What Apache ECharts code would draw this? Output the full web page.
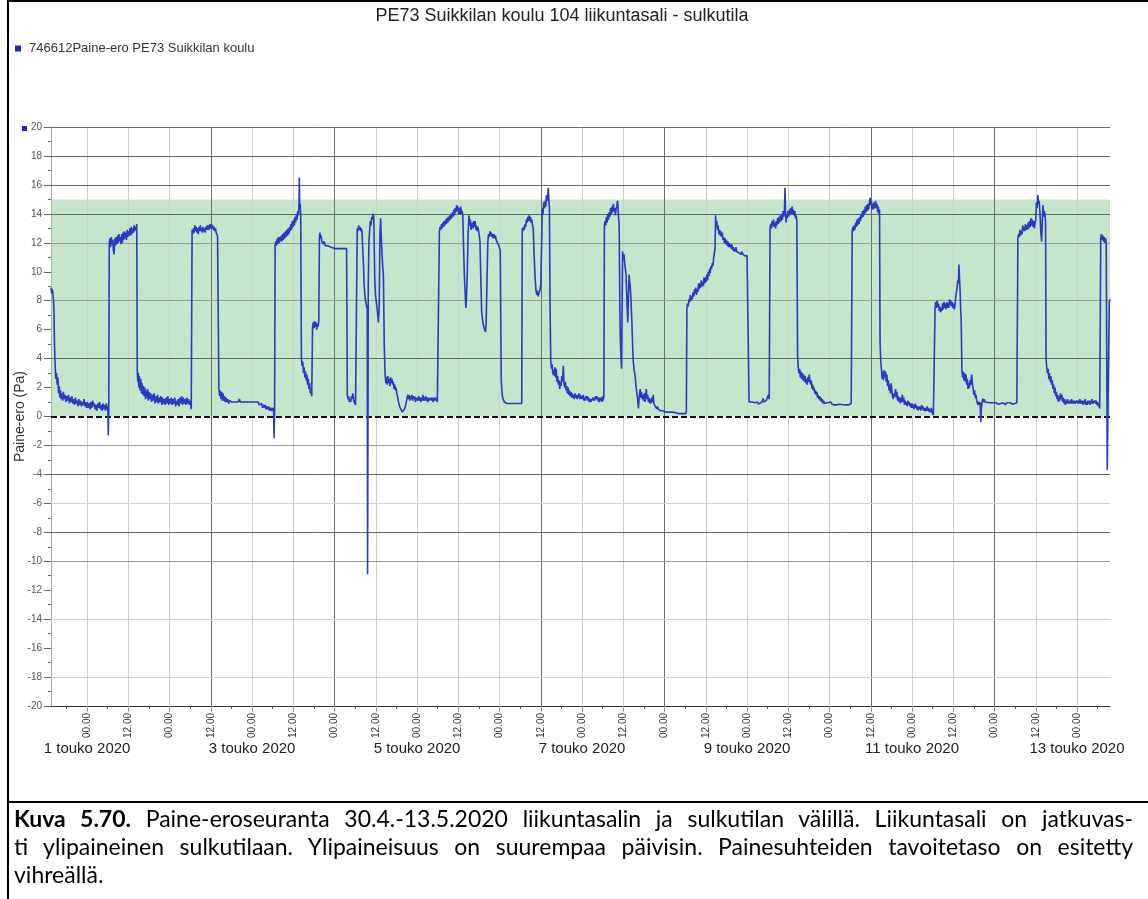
<!DOCTYPE html>
<html>
<head>
<meta charset="utf-8">
<title>PE73 Suikkilan koulu 104 liikuntasali - sulkutila</title>
<script src="https://cdn.jsdelivr.net/npm/echarts@6/dist/echarts.min.js"></script>
<style>
  html, body { margin: 0; padding: 0; background: #fff; }
  #page { position: relative; width: 1148px; height: 899px; overflow: hidden; background: #fff; }
  #chart { position: absolute; left: 0; top: 0; width: 1148px; height: 800px; }
  .rule { position: absolute; background: #000; }
  #caption { position: absolute; left: 14px; top: 804px; width: 1119px;
             font-family: Lato, "Noto Sans", sans-serif; font-size: 23px; line-height: 28px; color: #000; }
  #caption .ln { text-align: justify; text-align-last: justify; white-space: nowrap; }
  #caption .ln.last { text-align: left; text-align-last: left; }
</style>
</head>
<body>
<div id="page">
  <div id="chart"></div>
  <div class="rule" style="left:7px;top:0;width:2px;height:899px;"></div>
  <div class="rule" style="left:7px;top:0;width:1141px;height:2px;"></div>
  <div class="rule" style="left:7px;top:801px;width:1141px;height:2px;"></div>
  <div id="caption">
    <div class="ln"><b>Kuva 5.70.</b> Paine-eroseuranta 30.4.-13.5.2020 liikuntasalin ja sulkutilan välillä. Liikuntasali on jatkuvas-</div>
    <div class="ln">ti ylipaineinen sulkutilaan. Ylipaineisuus on suurempaa päivisin. Painesuhteiden tavoitetaso on esitetty</div>
    <div class="ln last">vihreällä.</div>
  </div>
</div>
<script>
// Pressure difference samples: [hours since 30.4.2020 00:00, Pa]
const apr30 = [[13.5,8.9],[13.7,8.5],[13.85,8.8],[14.0,8.6],[14.2,8.1],[14.35,7.4],[14.5,5.2],[14.7,3.5],[14.9,2.6],[15.1,3.0],[15.3,2.2],[15.5,2.7],[15.7,1.6],[15.9,2.1],[16.1,1.3],[16.3,1.8],[16.5,1.2],[16.7,1.6],[16.9,1.1],[17.1,1.7],[17.35,1.2],[17.6,1.5],[17.85,1.0],[18.1,1.4],[18.35,1.1],[18.6,1.5],[18.85,0.9],[19.1,1.3],[19.35,1.0],[19.6,1.4],[19.85,0.9],[20.1,1.2],[20.35,0.8],[20.6,1.3],[20.85,0.9],[21.1,1.1],[21.35,0.7],[21.6,1.2],[21.85,0.8],[22.1,1.1],[22.35,0.7],[22.6,1.0],[22.85,0.8],[23.1,1.2],[23.35,0.7],[23.6,1.0],[23.85,0.6]];
const may01 = [[24.1,1.0],[24.35,0.6],[24.6,0.9],[24.85,0.5],[25.1,1.0],[25.35,0.6],[25.6,1.1],[25.85,0.7],[26.1,0.9],[26.35,0.5],[26.6,0.8],[26.85,0.4],[27.1,0.9],[27.35,0.6],[27.6,1.0],[27.85,0.5],[28.1,0.8],[28.35,0.4],[28.6,0.9],[28.85,0.5],[29.1,0.8],[29.35,0.4],[29.6,0.9],[29.85,0.5],[30.05,0.7],[30.15,-1.3],[30.3,0.4],[30.45,12.0],[30.65,12.3],[30.85,11.7],[31.05,12.4],[31.25,11.9],[31.45,12.2],[31.65,11.5],[31.85,11.2],[32.05,12.3],[32.25,11.8],[32.45,12.4],[32.65,11.9],[32.85,12.5],[33.05,12.0],[33.25,12.6],[33.45,12.1],[33.65,12.4],[33.85,11.9],[34.05,12.6],[34.25,12.0],[34.45,12.7],[34.65,12.2],[34.85,12.8],[35.05,12.3],[35.25,12.7],[35.45,12.2],[35.65,12.9],[35.85,12.4],[36.05,12.8],[36.25,12.5],[36.45,13.0],[36.65,12.5],[36.85,13.1],[37.05,12.6],[37.25,13.0],[37.45,12.7],[37.65,13.2],[37.85,12.8],[38.05,13.1],[38.25,12.9],[38.45,13.3],[38.6,3.1],[38.75,2.4],[38.9,3.0],[39.05,2.0],[39.2,2.8],[39.4,1.8],[39.6,2.6],[39.8,1.6],[40.0,2.3],[40.2,1.5],[40.4,2.1],[40.6,1.4],[40.8,2.0],[41.0,1.2],[41.2,1.8],[41.4,1.3],[41.6,1.9],[41.8,1.1],[42.0,1.7],[42.25,1.2],[42.5,1.6],[42.75,1.0],[43.0,1.5],[43.25,1.1],[43.5,1.6],[43.75,0.9],[44.0,1.4],[44.25,1.0],[44.5,1.5],[44.75,0.9],[45.0,1.3],[45.25,1.0],[45.5,1.4],[45.75,0.8],[46.0,1.3],[46.25,0.9],[46.5,1.2],[46.75,0.8],[47.0,1.3],[47.25,0.9],[47.5,1.4],[47.75,0.8]];
const may02 = [[48.0,1.2],[48.25,0.9],[48.5,1.3],[48.75,0.8],[49.0,1.2],[49.25,0.9],[49.5,1.3],[49.75,0.7],[50.0,1.1],[50.25,0.8],[50.5,1.2],[50.75,0.7],[51.0,1.3],[51.25,0.9],[51.5,1.4],[51.75,0.8],[52.0,1.3],[52.25,0.9],[52.5,1.2],[52.75,0.8],[53.0,1.3],[53.25,0.9],[53.5,1.2],[53.75,0.8],[54.0,1.1],[54.3,0.5],[54.55,12.9],[54.75,12.6],[54.95,13.0],[55.15,12.7],[55.35,13.2],[55.55,12.8],[55.75,13.1],[55.95,12.7],[56.15,13.0],[56.35,12.6],[56.55,13.1],[56.75,12.8],[56.95,13.2],[57.15,12.8],[57.35,13.0],[57.55,12.7],[57.75,13.1],[57.95,12.8],[58.15,13.0],[58.35,12.7],[58.55,13.1],[58.75,12.9],[58.95,13.2],[59.15,12.9],[59.35,13.2],[59.55,12.9],[59.75,13.3],[59.95,13.0],[60.15,13.3],[60.35,13.0],[60.55,13.2],[60.75,12.9],[60.95,13.1],[61.15,12.8],[61.35,13.0],[61.55,12.7],[61.75,12.8],[61.95,12.5],[62.15,12.6],[62.35,1.9],[62.55,1.4],[62.75,1.8],[62.95,1.2],[63.15,1.7],[63.35,1.1],[63.55,1.6],[63.75,1.1],[63.95,1.4],[64.2,1.0],[64.45,1.3],[64.7,1.0],[64.95,1.2],[65.2,0.9],[65.45,1.1],[65.7,1.0],[66.1,1.0],[68.0,1.0],[68.3,1.2],[68.6,1.0],[71.9,1.0]];
const may03 = [[73.8,1.0],[74.05,0.8],[74.3,0.9],[74.55,0.7],[74.8,0.9],[75.05,0.6],[75.3,0.8],[75.55,0.6],[75.8,0.8],[76.05,0.5],[76.3,0.7],[76.55,0.5],[76.8,0.7],[77.05,0.4],[77.3,0.6],[77.55,0.4],[77.8,0.6],[78.05,0.4],[78.25,0.6],[78.4,-1.5],[78.55,0.4],[78.7,11.8],[78.9,12.1],[79.1,11.8],[79.3,12.3],[79.5,11.9],[79.7,12.4],[79.9,12.0],[80.1,12.4],[80.3,12.1],[80.5,12.5],[80.7,12.1],[80.9,12.6],[81.1,12.2],[81.3,12.7],[81.5,12.3],[81.7,12.8],[81.9,12.4],[82.1,12.9],[82.3,12.5],[82.5,13.0],[82.7,12.6],[82.9,13.1],[83.1,12.8],[83.3,13.3],[83.5,12.9],[83.7,13.5],[83.9,13.1],[84.1,13.6],[84.3,13.2],[84.5,13.8],[84.7,13.4],[84.9,14.0],[85.1,13.6],[85.3,14.2],[85.5,13.9],[85.65,14.6],[85.75,16.5],[85.85,14.4],[86.0,14.7],[86.15,14.0],[86.35,4.0],[86.55,3.5],[86.75,3.8],[86.95,3.0],[87.15,3.4],[87.35,2.7],[87.55,3.1],[87.75,2.5],[87.95,2.9],[88.15,2.2],[88.35,2.6],[88.55,1.9],[88.75,2.3],[88.95,1.6],[89.15,1.9],[89.35,1.4],[89.5,1.5],[89.6,6.2],[89.8,6.5],[90.0,6.1],[90.2,6.6],[90.4,6.2],[90.6,6.5],[90.8,6.0],[91.0,6.4],[91.2,6.2],[91.4,6.6],[91.6,12.4],[91.75,12.7],[91.9,12.3],[92.1,12.5],[92.3,12.1],[92.5,12.2],[92.75,11.9],[93.0,12.1],[93.25,11.8],[93.5,11.9],[93.75,11.7],[94.0,11.8],[94.5,11.7],[95.0,11.7],[95.5,11.6],[96.1,11.6]];
const may04 = [[99.5,11.6],[99.7,1.5],[99.9,1.2],[100.1,1.4],[100.3,1.0],[100.5,1.2],[100.7,1.0],[100.9,1.4],[101.1,1.2],[101.3,1.6],[101.5,1.3],[101.7,1.0],[101.9,1.1],[102.1,0.8],[102.3,0.9],[102.5,0.7],[102.6,13.0],[102.8,12.8],[103.0,13.2],[103.2,12.9],[103.4,13.1],[103.6,12.8],[103.8,13.0],[104.0,12.7],[104.2,12.6],[104.4,10.5],[104.6,9.1],[104.8,8.4],[105.0,8.0],[105.2,7.8],[105.35,7.5],[105.5,7.7],[105.6,-10.9],[105.7,-2.0],[105.8,9.0],[106.0,12.1],[106.2,12.8],[106.4,13.5],[106.6,13.2],[106.8,13.8],[107.0,13.6],[107.2,14.0],[107.4,13.8],[107.55,13.9],[107.7,9.5],[107.9,8.4],[108.1,8.0],[108.3,7.9],[108.5,7.2],[108.75,6.5],[108.9,7.1],[109.0,7.9],[109.2,12.5],[109.4,13.7],[109.6,12.4],[109.8,11.2],[110.0,10.4],[110.2,9.8],[110.45,5.0],[110.7,2.9],[110.9,2.3],[111.1,2.7],[111.3,2.2],[111.5,2.8],[111.7,2.3],[111.9,2.6],[112.1,2.1],[112.3,2.7],[112.5,2.3],[112.7,2.6],[112.9,2.2],[113.1,2.4],[113.3,1.9],[113.5,2.2],[113.7,1.8],[113.9,2.0],[114.1,1.6],[114.3,1.4],[114.5,1.1],[114.7,1.0],[114.9,0.7],[115.1,0.8],[115.3,0.5],[115.5,0.6],[115.7,0.3],[115.9,0.4],[116.1,0.2],[116.3,0.5],[116.5,0.6],[116.7,0.8],[116.9,0.9],[117.1,1.3],[117.3,1.5],[117.5,1.2],[117.7,1.5],[117.9,1.1],[118.1,1.4],[118.3,1.2],[118.5,1.5],[118.7,1.1],[118.9,1.4],[119.1,1.2],[119.3,1.4],[119.5,1.0],[119.7,1.3],[119.9,1.1]];
const may05 = [[120.1,1.3],[120.3,1.1],[120.5,1.4],[120.7,1.1],[120.9,1.3],[121.1,1.0],[121.3,1.3],[121.5,1.1],[121.7,1.5],[121.9,1.1],[122.1,1.3],[122.3,1.1],[122.5,1.4],[122.7,1.1],[122.9,1.3],[123.1,1.0],[123.3,1.3],[123.5,1.1],[123.7,1.2],[123.9,1.0],[124.1,1.3],[124.3,1.1],[124.5,1.3],[124.7,1.0],[124.9,1.3],[125.1,1.1],[125.3,1.3],[125.5,1.1],[125.7,1.3],[125.9,1.0],[126.1,1.1],[126.3,0.9],[126.5,12.8],[126.7,13.1],[126.9,12.9],[127.1,13.3],[127.3,13.0],[127.5,13.4],[127.7,13.1],[127.9,13.5],[128.1,13.2],[128.3,13.6],[128.5,13.3],[128.7,13.7],[128.9,13.4],[129.1,13.8],[129.3,13.5],[129.5,13.9],[129.7,13.6],[129.9,14.0],[130.1,13.7],[130.3,14.1],[130.5,13.8],[130.7,14.3],[130.9,13.9],[131.1,14.4],[131.3,14.1],[131.5,14.6],[131.7,14.2],[131.9,14.5],[132.1,14.0],[132.3,14.4],[132.5,14.0],[132.7,14.5],[132.9,14.0],[133.1,14.2],[133.3,13.9],[133.5,12.0],[133.75,9.8],[134.0,8.5],[134.2,7.5],[134.4,8.4],[134.6,9.8],[134.85,12.6],[135.1,13.9],[135.3,13.2],[135.5,13.6],[135.7,12.9],[135.9,12.8],[136.1,13.4],[136.3,13.0],[136.5,13.5],[136.7,13.1],[136.9,13.5],[137.1,12.9],[137.3,13.2],[137.5,12.8],[137.7,13.1],[137.9,12.8],[138.1,12.5],[138.3,12.1],[138.55,9.5],[138.8,7.2],[139.05,6.7],[139.3,6.3],[139.5,6.1],[139.7,6.0],[139.9,5.85],[140.1,6.4],[140.35,9.5],[140.6,12.1],[140.8,12.6],[141.0,12.4],[141.2,12.8],[141.4,12.5],[141.6,12.7],[141.8,12.4],[142.0,12.6],[142.2,12.3],[142.4,12.6],[142.6,12.3],[142.8,12.5],[143.0,12.2],[143.2,12.3],[143.4,12.0],[143.6,12.1],[143.8,11.8],[144.0,11.7]];
const may06 = [[144.2,11.5],[144.5,2.5],[144.7,1.7],[144.9,1.3],[145.1,1.2],[145.4,1.0],[146.1,0.9],[150.45,0.9],[150.6,13.0],[150.8,12.8],[151.0,13.1],[151.2,12.9],[151.4,13.3],[151.6,13.1],[151.8,13.6],[152.0,13.4],[152.2,13.8],[152.4,13.5],[152.6,13.9],[152.8,13.5],[153.0,13.8],[153.2,13.4],[153.4,13.6],[153.6,13.2],[153.8,13.0],[154.05,11.2],[154.3,9.8],[154.55,8.8],[154.8,8.4],[155.0,8.7],[155.2,8.3],[155.4,8.2],[155.6,8.6],[155.8,8.8],[156.0,9.1],[156.2,11.5],[156.45,14.4],[156.65,14.0],[156.85,14.8],[157.05,14.4],[157.25,14.9],[157.45,14.5],[157.65,15.3],[157.85,14.9],[158.05,15.4],[158.2,15.8],[158.35,14.9],[158.5,14.4],[158.7,7.5],[158.9,3.8],[159.1,3.3],[159.3,3.6],[159.5,2.9],[159.7,3.2],[159.9,2.8],[160.1,3.4],[160.3,2.7],[160.5,3.3],[160.7,2.4],[160.9,2.8],[161.1,2.2],[161.3,2.5],[161.5,1.9],[161.7,2.4],[161.9,2.1],[162.1,2.8],[162.3,2.4],[162.55,3.5],[162.75,2.3],[162.95,2.0],[163.15,2.4],[163.35,1.8],[163.55,2.1],[163.75,1.6],[163.95,2.0],[164.15,1.5],[164.35,1.8],[164.55,1.4],[164.75,1.7],[164.95,1.3],[165.15,1.6],[165.35,1.3],[165.55,1.5],[165.75,1.2],[165.95,1.6],[166.15,1.3],[166.35,1.5],[166.55,1.2],[166.75,1.5],[166.95,1.3],[167.15,1.6],[167.35,1.2],[167.55,1.5],[167.75,1.2]];
const may07 = [[167.95,1.4],[168.15,1.2],[168.35,1.5],[168.55,1.1],[168.75,1.3],[168.95,1.1],[169.15,1.4],[169.35,1.2],[169.55,1.4],[169.75,1.1],[169.95,1.3],[170.15,1.0],[170.35,1.2],[170.55,1.0],[170.75,1.1],[170.95,1.0],[171.15,1.3],[171.35,1.1],[171.55,1.3],[171.75,1.1],[171.95,1.4],[172.15,1.2],[172.35,1.4],[172.55,1.1],[172.75,1.3],[172.95,1.0],[173.15,1.3],[173.35,1.1],[173.55,1.3],[173.75,1.0],[173.95,1.4],[174.15,1.1],[174.35,1.4],[174.5,13.2],[174.7,13.5],[174.9,13.2],[175.1,13.8],[175.3,13.4],[175.5,14.0],[175.7,13.6],[175.9,14.1],[176.1,13.8],[176.3,14.4],[176.5,14.0],[176.7,14.5],[176.9,14.1],[177.1,14.7],[177.3,14.2],[177.5,14.4],[177.7,13.9],[177.9,14.3],[178.1,14.5],[178.3,14.9],[178.45,14.6],[178.6,13.8],[178.8,13.2],[178.95,9.0],[179.1,5.6],[179.3,4.2],[179.5,3.3],[179.65,7.5],[179.8,11.4],[180.0,10.8],[180.2,11.2],[180.4,10.6],[180.6,10.2],[180.8,9.8],[181.05,8.0],[181.3,6.5],[181.5,8.4],[181.7,9.8],[181.85,9.3],[182.0,9.1],[182.25,8.0],[182.5,6.5],[182.7,5.0],[182.9,3.8],[183.15,3.2],[183.4,2.9],[183.65,2.2],[183.9,1.7],[184.15,1.2],[184.4,0.55],[184.65,1.4],[184.9,1.9],[185.1,1.3],[185.3,1.7],[185.5,1.2],[185.7,1.5],[185.9,1.1],[186.1,1.6],[186.3,1.0],[186.5,1.4],[186.7,1.9],[186.9,1.2],[187.1,1.5],[187.3,1.0],[187.5,1.3],[187.7,0.9],[187.9,1.2],[188.1,0.9],[188.3,1.3],[188.5,1.0],[188.7,1.5],[188.9,0.9],[189.1,1.0],[189.3,0.7],[189.5,0.8],[189.7,0.55],[189.9,0.7],[190.2,0.5],[190.5,0.6],[190.8,0.4],[191.1,0.5],[191.4,0.4],[191.7,0.45]];
const may08 = [[192.0,0.35],[192.3,0.4],[192.6,0.3],[193.0,0.35],[193.5,0.3],[194.1,0.3],[195.05,0.28],[196.0,0.2],[196.3,0.3],[196.6,0.2],[197.0,0.2],[197.6,0.2],[198.2,0.2],[198.35,0.4],[198.5,7.5],[198.7,7.8],[198.9,7.6],[199.1,8.1],[199.3,7.9],[199.5,8.4],[199.7,8.0],[199.9,8.3],[200.1,8.1],[200.3,8.6],[200.5,8.3],[200.7,8.8],[200.9,8.5],[201.1,8.9],[201.3,8.4],[201.5,8.8],[201.7,8.6],[201.9,9.2],[202.1,8.8],[202.3,9.2],[202.5,8.9],[202.7,9.4],[202.9,9.0],[203.1,9.3],[203.3,9.0],[203.5,9.6],[203.7,9.2],[203.9,9.6],[204.1,9.3],[204.3,9.8],[204.5,9.4],[204.7,10.0],[204.9,9.7],[205.1,10.2],[205.3,9.9],[205.5,10.4],[205.7,10.2],[205.9,10.6],[206.1,10.4],[206.3,11.0],[206.5,10.9],[206.7,11.6],[206.85,13.9],[207.0,13.2],[207.2,13.5],[207.4,12.9],[207.6,13.2],[207.8,12.6],[208.0,12.9],[208.2,12.5],[208.4,12.8],[208.6,12.4],[208.8,12.7],[209.0,12.2],[209.2,12.4],[209.4,12.0],[209.6,12.3],[209.8,11.9],[210.0,12.2],[210.2,11.8],[210.4,12.1],[210.6,11.7],[210.8,12.0],[211.0,11.7],[211.2,11.9],[211.4,11.6],[211.6,11.9],[211.8,11.5],[212.0,11.7],[212.2,11.4],[212.4,11.6],[212.6,11.4],[212.8,11.7],[213.0,11.4],[213.3,11.5],[213.6,11.3],[213.9,11.4],[214.2,11.2],[214.5,11.4],[214.8,11.2],[215.1,11.3],[215.4,11.1],[215.7,11.2],[216.0,11.1]];
const may09 = [[216.4,11.15],[216.6,1.0],[217.5,1.0],[217.8,0.9],[218.3,0.95],[219.0,1.0],[219.3,0.85],[219.8,0.9],[220.3,1.0],[220.5,1.1],[220.7,1.24],[220.9,1.0],[221.1,0.9],[221.4,0.9],[221.6,1.1],[221.8,1.2],[222.0,1.0],[222.2,1.5],[222.45,1.2],[222.7,13.0],[222.9,13.3],[223.1,13.0],[223.3,13.5],[223.5,13.2],[223.7,13.6],[223.9,13.1],[224.1,13.4],[224.3,13.0],[224.5,13.5],[224.7,13.2],[224.9,13.7],[225.1,13.3],[225.3,13.8],[225.5,13.4],[225.7,13.9],[225.9,13.5],[226.1,14.0],[226.3,13.6],[226.5,14.2],[226.7,13.8],[226.9,14.3],[227.05,15.8],[227.2,14.0],[227.35,13.4],[227.5,14.0],[227.7,13.7],[227.9,14.2],[228.1,13.8],[228.3,14.3],[228.5,13.9],[228.7,14.4],[228.9,14.0],[229.1,14.5],[229.3,14.0],[229.5,14.3],[229.7,13.9],[229.9,14.2],[230.1,13.7],[230.3,13.9],[230.5,13.5],[230.7,4.2],[230.9,3.4],[231.1,3.0],[231.3,3.3],[231.5,2.7],[231.7,3.1],[231.9,2.6],[232.1,3.0],[232.3,2.5],[232.5,2.9],[232.7,2.4],[232.9,2.8],[233.1,2.3],[233.3,2.6],[233.5,2.2],[233.7,2.7],[233.9,2.4],[234.1,2.9],[234.3,2.5],[234.5,2.2],[234.7,2.5],[234.9,1.9],[235.1,2.2],[235.3,1.8],[235.5,2.0],[235.7,1.6],[235.9,1.8],[236.1,1.5],[236.3,1.7],[236.5,1.3],[236.7,1.5],[236.9,1.2],[237.1,1.4],[237.3,1.1],[237.5,1.3],[237.7,1.0],[237.9,1.2],[238.1,0.9],[238.3,1.1],[238.5,0.9],[238.7,1.0],[238.9,0.85],[239.2,0.95],[239.5,0.85],[239.8,0.97]];
const may10 = [[240.1,0.85],[240.4,1.0],[240.7,0.85],[241.0,0.95],[241.3,0.8],[241.6,0.9],[242.0,0.8],[242.6,0.85],[243.0,0.75],[243.5,0.83],[244.0,0.75],[244.5,0.8],[245.0,0.8],[245.5,0.8],[245.9,0.75],[246.3,0.9],[246.6,12.8],[246.8,13.1],[247.0,12.8],[247.2,13.2],[247.4,12.9],[247.6,13.4],[247.8,13.1],[248.0,13.6],[248.2,13.2],[248.4,13.7],[248.6,13.3],[248.8,13.8],[249.0,13.5],[249.2,14.0],[249.4,13.7],[249.6,14.2],[249.8,13.8],[250.0,14.3],[250.2,14.0],[250.4,14.5],[250.6,14.1],[250.8,14.6],[251.0,14.2],[251.2,14.7],[251.4,14.3],[251.6,14.8],[251.8,15.1],[252.0,14.6],[252.2,14.9],[252.4,14.3],[252.6,14.7],[252.8,14.3],[253.0,14.8],[253.2,14.4],[253.4,14.9],[253.6,14.4],[253.8,14.7],[254.0,14.1],[254.2,14.5],[254.4,14.0],[254.55,14.3],[254.7,5.2],[254.9,3.8],[255.1,3.3],[255.3,2.6],[255.5,3.1],[255.7,2.5],[255.9,3.2],[256.1,2.7],[256.3,3.1],[256.5,2.4],[256.7,2.9],[256.9,2.1],[257.1,2.5],[257.3,1.8],[257.5,2.2],[257.7,1.6],[257.9,2.3],[258.1,1.9],[258.3,1.4],[258.55,1.2],[258.8,1.6],[259.0,1.4],[259.2,1.9],[259.4,1.3],[259.6,1.7],[259.8,1.1],[260.0,1.4],[260.2,1.0],[260.4,1.3],[260.6,0.9],[260.8,1.3],[261.0,1.0],[261.2,1.5],[261.4,1.0],[261.6,1.3],[261.8,0.8],[262.0,1.1],[262.2,0.8],[262.4,1.0],[262.6,0.7],[262.8,1.1],[263.0,0.8],[263.2,1.0],[263.4,0.7],[263.6,0.9]];
const may11 = [[263.8,0.6],[264.0,0.9],[264.2,0.6],[264.4,0.8],[264.6,0.5],[264.8,0.9],[265.0,0.6],[265.2,0.8],[265.4,0.5],[265.6,0.7],[265.8,0.4],[266.0,0.7],[266.2,0.5],[266.4,0.7],[266.6,0.4],[266.8,0.8],[267.0,0.5],[267.2,0.7],[267.4,0.4],[267.6,0.6],[267.8,0.35],[268.0,0.6],[268.2,0.4],[268.4,0.7],[268.6,0.4],[268.8,0.6],[269.0,0.3],[269.2,0.5],[269.4,0.3],[269.6,0.6],[269.8,0.3],[270.0,0.4],[270.2,0.1],[270.45,3.5],[270.7,7.5],[270.9,7.9],[271.1,7.5],[271.3,8.0],[271.5,7.6],[271.7,7.8],[271.9,7.3],[272.1,7.6],[272.3,7.2],[272.5,7.5],[272.7,7.3],[272.9,7.8],[273.1,7.4],[273.3,7.9],[273.5,7.5],[273.7,7.8],[273.9,7.4],[274.1,7.9],[274.3,7.5],[274.5,7.8],[274.7,7.5],[274.9,8.1],[275.1,7.7],[275.3,8.0],[275.5,7.6],[275.7,7.9],[275.9,7.5],[276.1,7.8],[276.3,7.4],[276.5,7.7],[276.7,8.2],[276.9,8.6],[277.1,8.9],[277.3,9.4],[277.5,9.2],[277.65,10.5],[277.8,9.6],[278.0,8.6],[278.15,7.4],[278.3,6.8],[278.5,3.3],[278.7,2.7],[278.9,3.1],[279.1,2.5],[279.3,3.0],[279.5,2.4],[279.7,2.9],[279.9,2.2],[280.1,2.6],[280.3,1.9],[280.5,2.3],[280.7,2.0],[280.9,2.5],[281.1,2.2],[281.35,2.9],[281.6,2.2],[281.8,1.9],[282.0,1.5],[282.2,1.8],[282.4,1.3],[282.6,1.5],[282.8,1.1],[283.0,1.2],[283.2,0.8],[283.4,1.0],[283.6,0.8],[283.8,1.0],[284.0,-0.4],[284.2,0.7],[284.4,1.0],[284.6,1.24],[284.8,1.0],[285.0,1.2],[285.2,1.0],[285.4,1.1],[285.75,1.0],[286.7,0.95],[287.5,0.95]];
const may12 = [[288.5,0.95],[289.2,0.85],[289.5,0.95],[290.5,0.95],[291.2,0.8],[291.5,0.95],[292.6,0.95],[293.3,0.85],[293.6,0.95],[294.5,0.95],[294.8,12.3],[295.0,12.6],[295.2,12.4],[295.4,12.9],[295.6,12.5],[295.8,12.8],[296.0,12.6],[296.2,13.2],[296.4,12.8],[296.6,13.1],[296.8,12.8],[297.0,13.3],[297.2,12.9],[297.4,13.2],[297.6,12.9],[297.8,13.4],[298.0,13.0],[298.2,13.5],[298.4,13.1],[298.6,13.7],[298.8,13.2],[299.0,13.6],[299.2,13.1],[299.4,13.5],[299.6,13.0],[299.8,13.4],[300.0,13.6],[300.2,14.8],[300.4,14.4],[300.6,15.3],[300.8,14.7],[301.0,14.9],[301.2,14.2],[301.45,12.8],[301.7,12.1],[301.9,13.5],[302.1,14.6],[302.3,13.8],[302.5,14.2],[302.7,13.9],[302.85,13.5],[303.0,4.0],[303.2,3.4],[303.4,3.0],[303.6,3.3],[303.8,2.6],[304.0,3.0],[304.2,2.4],[304.4,2.8],[304.6,2.2],[304.8,2.5],[305.0,1.9],[305.2,2.2],[305.4,1.6],[305.6,2.0],[305.8,1.4],[306.0,1.7],[306.2,1.2],[306.4,1.5],[306.6,1.0],[306.8,1.4],[307.0,1.1],[307.2,1.6],[307.4,1.2],[307.6,1.5],[307.8,1.0],[308.0,1.3],[308.2,0.9],[308.4,1.2],[308.6,0.8],[308.8,1.1],[309.0,0.9],[309.2,1.2],[309.4,0.9],[309.6,1.1],[309.8,0.9],[310.0,1.1],[310.2,0.9],[310.4,1.2],[310.6,0.9],[310.8,1.1],[311.0,0.9],[311.2,1.1],[311.4,0.9],[311.6,1.0],[311.8,0.85]];
const may13 = [[312.0,1.1],[312.2,0.9],[312.4,1.1],[312.6,0.9],[312.8,1.2],[313.0,0.9],[313.2,1.1],[313.4,0.9],[313.6,1.1],[313.8,0.8],[314.0,1.1],[314.2,0.9],[314.4,1.2],[314.6,0.8],[314.8,1.0],[315.0,0.8],[315.2,1.1],[315.4,0.9],[315.6,1.1],[315.8,0.8],[316.0,1.1],[316.2,0.9],[316.4,1.2],[316.6,0.9],[316.8,1.0],[317.0,0.8],[317.2,1.1],[317.4,0.9],[317.6,1.1],[317.8,0.8],[318.0,1.0],[318.2,0.7],[318.4,0.9],[318.6,0.55],[318.75,6.0],[318.9,12.3],[319.1,12.6],[319.3,12.2],[319.5,12.5],[319.7,12.1],[319.9,12.4],[320.1,12.0],[320.3,12.3],[320.5,12.0],[320.65,11.9],[320.8,-3.7],[321.1,2.5],[321.4,7.9],[321.6,8.1]];

const seriesName = '746612Paine-ero PE73 Suikkilan koulu';
const chartTitle = 'PE73 Suikkilan koulu 104 liikuntasali - sulkutila';
const yAxisName = 'Paine-ero (Pa)';

// Target band (Pa)
const targetLow = 0;
const targetHigh = 15;

// Time axis window (hours since 30.4.2020 00:00)
const timeStart = 13.5;
const timeEnd = 321.6;

// Clock ticks every 12 h, date labels every second midnight
const clockTicks = [24,36,48,60,72,84,96,108,120,132,144,156,168,180,192,204,216,228,240,252,264,276,288,300,312];
const clockLabels = ['00.00', '12.00'];
const sixHourTicks = [18,30,42,54,66,78,90,102,114,126,138,150,162,174,186,198,210,222,234,246,258,270,282,294,306,318];
const dateTicks = [24,72,120,168,216,264,312];
const dateLabels = ['1 touko 2020','3 touko 2020','5 touko 2020','7 touko 2020','9 touko 2020','11 touko 2020','13 touko 2020'];

// Vertical grid: strong lines and the regular 12 h lines
const strongTimeLines = [60,96,156,192,252,288];
// Horizontal grid lines by strength
const yLinesStrong = [20,18,16,14,4,-4,-8];
const yLinesMedium = [12,8,-2,-10];
const yLinesLight = [-6,-14,-18];

const pressure = [].concat(apr30, may01, may02, may03, may04, may05, may06, may07, may08, may09, may10, may11, may12, may13);

const FONT = '"Liberation Sans", Arial, sans-serif';

function gridLines(axisKey, values, color, width) {
  return {
    type: 'line', data: [], silent: true, animation: false, z: 2,
    markLine: {
      silent: true, symbol: ['none', 'none'], animation: false,
      label: { show: false },
      lineStyle: { color: color, width: width, type: 'solid' },
      emphasis: { disabled: true },
      data: values.map(v => ({ [axisKey]: v }))
    }
  };
}

const chart = echarts.init(document.getElementById('chart'), null, { renderer: 'canvas' });

chart.setOption({
  animation: false,
  backgroundColor: 'transparent',
  textStyle: { fontFamily: FONT },
  graphic: [
    { type: 'text', x: 562, y: 16,
      style: { text: chartTitle, font: '18px ' + FONT, fill: '#222', textAlign: 'center', textVerticalAlign: 'middle' } },
    { type: 'rect', shape: { x: 22, y: 126, width: 5, height: 5 }, style: { fill: '#1f22d8' } }
  ],
  legend: {
    data: [seriesName], left: 15, top: 42, orient: 'horizontal',
    icon: 'rect', itemWidth: 6, itemHeight: 6, itemGap: 6, padding: 0,
    textStyle: { fontSize: 13, color: '#333', fontFamily: FONT, padding: [0, 0, 0, 3] },
    selectedMode: false
  },
  grid: { left: 51, right: 38, top: 127, bottom: 94, containLabel: false, outerBoundsMode: 'none' },
  xAxis: [
    {
      type: 'value', min: timeStart, max: timeEnd, position: 'bottom',
      axisLine: { show: true, onZero: false, lineStyle: { color: '#333', width: 1 } },
      axisTick: { show: true, customValues: clockTicks, length: 6, lineStyle: { color: '#999' } },
      axisLabel: {
        show: true, customValues: clockTicks, rotate: 90, margin: 7,
        fontSize: 10, color: '#333', fontFamily: FONT,
        formatter: v => clockLabels[(v % 24 === 0) ? 0 : 1]
      },
      splitLine: { show: false }
    },
    {
      type: 'value', min: timeStart, max: timeEnd, position: 'bottom',
      axisLine: { show: false, onZero: false },
      axisTick: { show: true, customValues: sixHourTicks, length: 3, lineStyle: { color: '#555' } },
      axisLabel: {
        show: true, customValues: dateTicks, margin: 35,
        fontSize: 15, color: '#222', fontFamily: FONT,
        formatter: v => dateLabels[dateTicks.indexOf(v)]
      },
      splitLine: { show: false }
    }
  ],
  yAxis: {
    type: 'value', min: -20, max: 20, interval: 2,
    name: yAxisName, nameLocation: 'middle', nameGap: 24, nameRotate: 90, nameMoveOverlap: false,
    nameTextStyle: { fontSize: 14, color: '#333', fontFamily: FONT },
    axisLine: { show: true, onZero: false, lineStyle: { color: '#aaa' } },
    axisTick: { show: true, length: 7, lineStyle: { color: '#666' } },
    minorTick: { show: true, splitNumber: 2, length: 3, lineStyle: { color: '#666' } },
    axisLabel: { fontSize: 10, color: '#555', margin: 9, fontFamily: FONT },
    splitLine: { show: false },
    minorSplitLine: { show: false }
  },
  series: [
    {
      type: 'line', data: [], silent: true, z: 1,
      markArea: {
        silent: true,
        itemStyle: { color: 'rgba(140,206,152,0.5)' },
        data: [[{ yAxis: targetLow }, { yAxis: targetHigh }]]
      }
    },
    gridLines('xAxis', clockTicks, '#cfcfcf', 1),
    gridLines('xAxis', strongTimeLines, '#6e6e6e', 1),
    gridLines('yAxis', yLinesLight, '#cfcfcf', 1),
    gridLines('yAxis', yLinesMedium, '#9a9a9a', 1),
    gridLines('yAxis', yLinesStrong, '#666', 1),
    {
      name: seriesName, type: 'line', data: pressure, xAxisIndex: 0, yAxisIndex: 0,
      symbol: 'none', showSymbol: false, z: 5,
      lineStyle: { color: '#2a39c6', width: 1.6 },
      itemStyle: { color: '#1f22d8' },
      emphasis: { disabled: true }
    },
    {
      type: 'line', data: [], silent: true, z: 6,
      markLine: {
        silent: true, symbol: ['none', 'none'], animation: false,
        label: { show: false },
        lineStyle: { color: '#111', width: 2.2, type: [6, 3] },
        data: [{ yAxis: 0 }]
      }
    }
  ]
});
</script>
</body>
</html>
